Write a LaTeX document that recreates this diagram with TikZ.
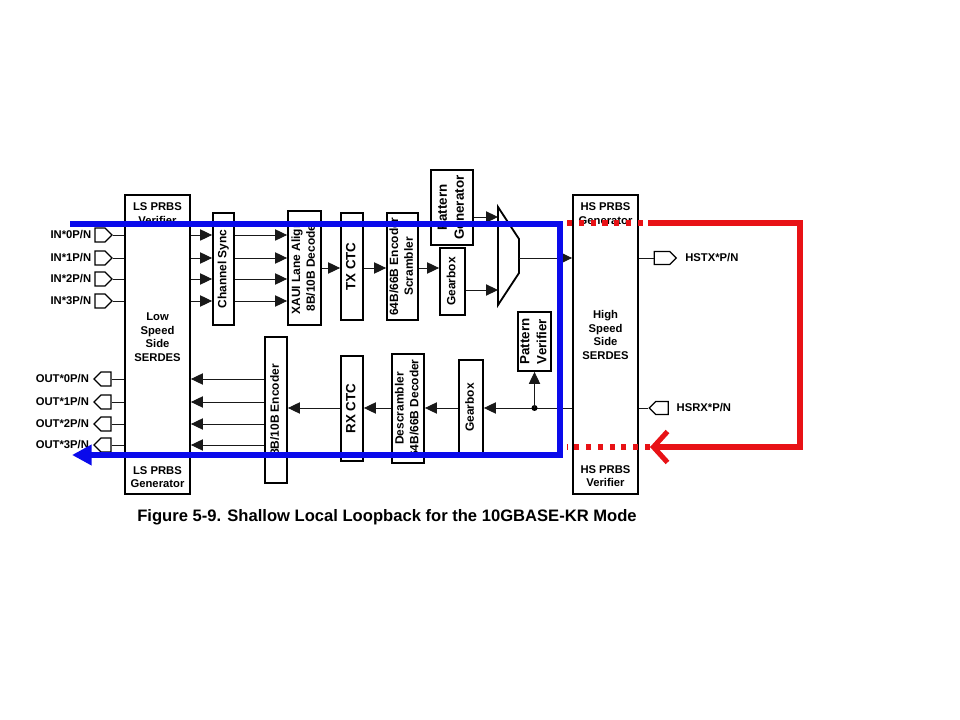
\documentclass[tikz,border=0pt]{standalone}
\usepackage{fontspec}
\setmainfont{Liberation Sans}
\usetikzlibrary{shapes.symbols, arrows.meta, positioning}

\definecolor{loopred}{RGB}{232,18,22}
\definecolor{loopblue}{RGB}{10,10,235}

% rotated text inside the narrow blocks
\newcommand{\vlabel}[1]{\rotatebox{90}{\makebox[0pt]{\begin{tabular}{@{}c@{}}#1\end{tabular}}}}

\begin{document}
\begin{tikzpicture}[x=0.025cm, y=-0.025cm,
    sz/.style 2 args={minimum width=#1*0.025cm, minimum height=#2*0.025cm},
    blk/.style={draw, line width=1.3pt, inner sep=0pt, font=\fontsize{8.5}{10.5}\selectfont\bfseries},
    bigblk/.style={blk, font=\fontsize{9.5}{12}\selectfont\bfseries},
    txt/.style={inner sep=0pt, align=center, font=\fontsize{8}{9.6}\selectfont\bfseries},
    inpin/.style={draw, line width=0.8pt, signal, signal to=east, sz={17}{14}, inner sep=0pt},
    outpin/.style={draw, line width=0.8pt, signal, signal to=west, sz={17}{14}, inner sep=0pt},
    wire/.style={line width=0.7pt, draw=black!90},
    sig/.style={wire, -{Triangle[length=8.5pt, width=8pt]}},
    loopb/.style={draw=loopblue, line width=3.6pt},
    loopr/.style={draw=loopred, line width=3.6pt},
    dots/.style={dash pattern=on 3.6pt off 4.8pt}]

    \useasboundingbox (0,0) rectangle (960,720);

    % serdes blocks
    \node[blk, sz={65}{299}] (ls) at (157.5,344.5) {};
    \node[txt] (ls-top) at (157.5,213.5) {LS PRBS\\Verifier};
    \node[txt] (ls-mid) at (157.5,337) {Low\\Speed\\Side\\SERDES};
    \node[txt] (ls-bot) at (157.5,477) {LS PRBS\\Generator};

    \node[blk, sz={65}{299}] (hs) at (605.5,344.5) {};
    \node[txt] (hs-top) at (605.5,213.5) {HS PRBS\\Generator};
    \node[txt] (hs-mid) at (605.5,335) {High\\Speed\\Side\\SERDES};
    \node[txt] (hs-bot) at (605.5,476) {HS PRBS\\Verifier};

    % transmit side
    \node[blk, sz={21}{112}] (chs) at (223.5,269) {\vlabel{Channel Sync}};
    \node[blk, sz={33}{114}] (xaui) at (304.5,268) {\vlabel{XAUI Lane Align\\8B/10B Decode}};
    \node[bigblk, sz={22}{107}] (txctc) at (352,266.5) {\vlabel{TX CTC}};
    \node[blk, sz={31}{107}] (enc) at (402.5,266.5) {\vlabel{64B/66B Encoder\\Scrambler}};
    \node[blk, sz={25}{67}] (txgb) at (452.5,281.5) {\vlabel{Gearbox}};
    \node[bigblk, sz={42}{75}] (pgen) at (452,207.5) {\vlabel{Pattern\\Generator}};

    \coordinate (muxtl) at (498,207);
    \coordinate (muxtr) at (519,239);
    \coordinate (muxbr) at (519,273);
    \coordinate (muxbl) at (498,305);
    \coordinate (muxin1) at (498,217);
    \coordinate (muxin2) at (498,290);
    \coordinate (muxout) at (519,258);
    \draw[line width=1.3pt] (muxtl) -- (muxtr) -- (muxbr) -- (muxbl) -- cycle;

    % receive side
    \node[bigblk, sz={33}{59}] (pver) at (534.5,341.5) {\vlabel{Pattern\\Verifier}};
    \node[blk, sz={24}{95}] (rxgb) at (471,407.5) {\vlabel{Gearbox}};
    \node[blk, sz={32}{109}] (dec) at (408,408.5) {\vlabel{Descrambler\\64B/66B Decoder}};
    \node[bigblk, sz={22}{105}] (rxctc) at (352,408.5) {\vlabel{RX CTC}};
    \node[blk, sz={22}{146}] (enc8) at (276,410) {\vlabel{8B/10B Encoder}};

    % lanes
    \foreach \k/\y in {0/235,1/258,2/279,3/301} {
        \node[inpin] (in\k) at (100,\y) {};
        \node[txt, left=0.075cm of in\k] (inl\k) {IN*\k P/N};
        \draw[wire] (in\k.east) -- (in\k.east -| ls.west);
        \draw[sig] (ls.east |- in\k) -- (chs.west |- in\k);
        \draw[sig] (chs.east |- in\k) -- (xaui.west |- in\k);
    }
    \foreach \k/\y in {0/379,1/402,2/424,3/445} {
        \node[outpin] (out\k) at (106,\y) {};
        \node[txt, left=0.1cm of out\k] (outl\k) {OUT*\k P/N};
        \draw[wire] (out\k.east) -- (out\k.east -| ls.west);
        \draw[sig] (enc8.west |- out\k) -- (ls.east |- out\k);
    }

    \coordinate (txrow) at (0,268);
    \coordinate (rxrow) at (0,408);
    \draw[sig] (xaui.east |- txrow) -- (txctc.west |- txrow);
    \draw[sig] (txctc.east |- txrow) -- (enc.west |- txrow);
    \draw[sig] (enc.east |- txrow) -- (txgb.west |- txrow);
    \draw[sig] (pgen.east |- muxin1) -- (muxin1);
    \draw[sig] (txgb.east |- muxin2) -- (muxin2);
    \draw[sig] (muxout) -- (muxout -| hs.west);

    \draw[sig] (hs.west |- rxrow) -- (rxgb.east |- rxrow);
    \fill (pver.south |- rxrow) circle (3);
    \draw[sig] (pver.south |- rxrow) -- (pver.south);
    \draw[sig] (rxgb.west |- rxrow) -- (dec.east |- rxrow);
    \draw[sig] (dec.west |- rxrow) -- (rxctc.east |- rxrow);
    \draw[sig] (rxctc.west |- rxrow) -- (enc8.east |- rxrow);

    % high speed pins
    \node[inpin, sz={22}{13}] (hstx) at (662,258) {};
    \node[txt, right=0.2cm of hstx] (hstxl) {HSTX*P/N};
    \draw[wire] (hs.east |- hstx) -- (hstx.west);
    \node[outpin, sz={19}{13}] (hsrx) at (662,408) {};
    \node[txt, right=0.19cm of hsrx] (hsrxl) {HSRX*P/N};
    \draw[wire] (hs.east |- hsrx) -- (hsrx.west);

    % loopback paths
    \coordinate (b0) at (70,224);
    \coordinate (b1) at (560,224);
    \coordinate (b2) at (560,455);
    \coordinate (b3) at (72,455);
    \draw[loopb, -{Triangle[length=14pt, width=14pt]}] (b0) -- (b1) -- (b2) -- (b3);

    \coordinate (r0) at (567,223);
    \coordinate (r1) at (648,223);
    \coordinate (r2) at (800,223);
    \coordinate (r3) at (800,447);
    \coordinate (r4) at (650,447);
    \coordinate (r5) at (567,447);
    \draw[loopr, dots] (r0) -- (r1);
    \draw[loopr, -{Straight Barb[length=10pt, width=22pt]}] (r1) -- (r2) -- (r3) -- (r4);
    \draw[loopr, dots] (r4) -- (r5);

    \node[font=\fontsize{11.8}{13}\selectfont\bfseries] (caption) at (387,517)
        {Figure 5-9. Shallow Local Loopback for the 10GBASE-KR Mode};
\end{tikzpicture}
\end{document}
